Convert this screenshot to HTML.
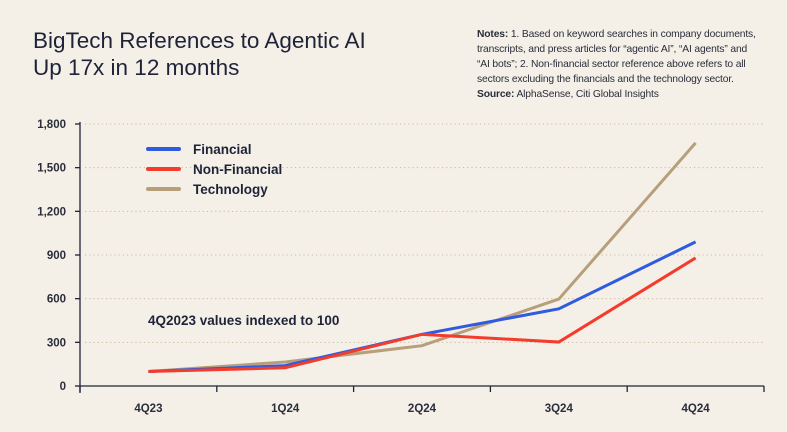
<!DOCTYPE html>
<html><head><meta charset="utf-8"><style>
body{margin:0;background:#f4f0e8;width:787px;height:432px;overflow:hidden;font-family:"Liberation Sans",sans-serif;position:relative}
.title{position:absolute;left:33px;top:27px;font-size:22.5px;line-height:27px;color:#1e2338}
.notes{position:absolute;left:477px;top:27px;font-size:10.3px;line-height:15px;color:#2a2d3a;letter-spacing:-0.15px;width:320px;white-space:nowrap}
svg{position:absolute;left:0;top:0}
</style></head><body>
<div class="title">BigTech References to Agentic AI<br>Up 17x in 12 months</div>
<div class="notes"><b>Notes:</b> 1. Based on keyword searches in company documents,<br>transcripts, and press articles for “agentic AI”, “AI agents” and<br>“AI bots”; 2. Non-financial sector reference above refers to all<br>sectors excluding the financials and the technology sector.<br><b>Source:</b> AlphaSense, Citi Global Insights</div>
<svg id="chart" width="787" height="432"></svg>
<script>
const categories=["4Q23","1Q24","2Q24","3Q24","4Q24"];
const financial=[100,140,355,530,990];
const nonFinancial=[100,125,355,302,880];
const technology=[100,165,277,597,1670];
const yTicks=[0,300,600,900,1200,1500,1800];
const yTickLabels=["0","300","600","900","1,200","1,500","1,800"];
const seriesNames=["Financial","Non-Financial","Technology"];
const NS="http://www.w3.org/2000/svg";
const svg=document.getElementById('chart');
const X0=80,X1=764,Y0=386,Y1=124;
const band=(X1-X0)/categories.length;
const xs=i=>X0+band*(i+0.5);
const ys=v=>Y0-(v/1800)*(Y0-Y1);
function mk(t,a){const e=document.createElementNS(NS,t);for(const k in a)e.setAttribute(k,a[k]);svg.appendChild(e);return e;}
yTicks.forEach((v,i)=>{
 if(v>0){const g=mk('line',{x1:X0+5,x2:X1,y1:ys(v),y2:ys(v),stroke:'#c9b89a','stroke-width':1,'stroke-dasharray':'1.2 3'});
 }
 const tk=mk('line',{x1:X0-5,x2:X0,y1:ys(v),y2:ys(v),stroke:'#1e2338','stroke-width':1.3});
 
 const t=mk('text',{x:X0-14,y:ys(v)+4,'text-anchor':'end','font-size':11.5,'font-weight':'bold',fill:'#2a2d3a','font-family':'Liberation Sans, sans-serif'});
 t.textContent=yTickLabels[i];
 
});
const ya=mk('line',{x1:X0,x2:X0,y1:Y1-2,y2:Y0+7,stroke:'#1e2338','stroke-width':1.3});

const xa=mk('line',{x1:X0,x2:X1,y1:Y0,y2:Y0,stroke:'#1e2338','stroke-width':1.3});

for(let i=0;i<=categories.length;i++){
 const tk=mk('line',{x1:X0+band*i,x2:X0+band*i,y1:Y0,y2:Y0+6,stroke:'#1e2338','stroke-width':1.3});
 
}
categories.forEach((c,i)=>{
 const t=mk('text',{x:xs(i),y:412,'text-anchor':'middle','font-size':11.5,'font-weight':'bold',fill:'#2a2d3a','font-family':'Liberation Sans, sans-serif'});
 t.textContent=c;
 
});
const colors=['#2f5be0','#f43c2c','#b89f7c'];
const data=[financial,nonFinancial,technology];
[2,0,1].forEach(s=>{
 const p=mk('polyline',{points:data[s].map((v,i)=>xs(i)+','+ys(v)).join(' '),fill:'none',stroke:colors[s],'stroke-width':3,'stroke-linejoin':'miter'});
 
});
seriesNames.forEach((n,i)=>{
 const y=149+i*20;
 const l=mk('line',{x1:148,x2:179,y1:y,y2:y,stroke:colors[i],'stroke-width':4,'stroke-linecap':'round'});
 
 const t=mk('text',{x:193,y:y+5,'font-size':13.5,'font-weight':'bold',fill:'#1e2338','font-family':'Liberation Sans, sans-serif'});
 t.textContent=n;
 
});
const ann=mk('text',{x:148,y:325,'font-size':13.5,'font-weight':'bold',fill:'#1e2338','font-family':'Liberation Sans, sans-serif'});
ann.textContent='4Q2023 values indexed to 100';

</script>
</body></html>
